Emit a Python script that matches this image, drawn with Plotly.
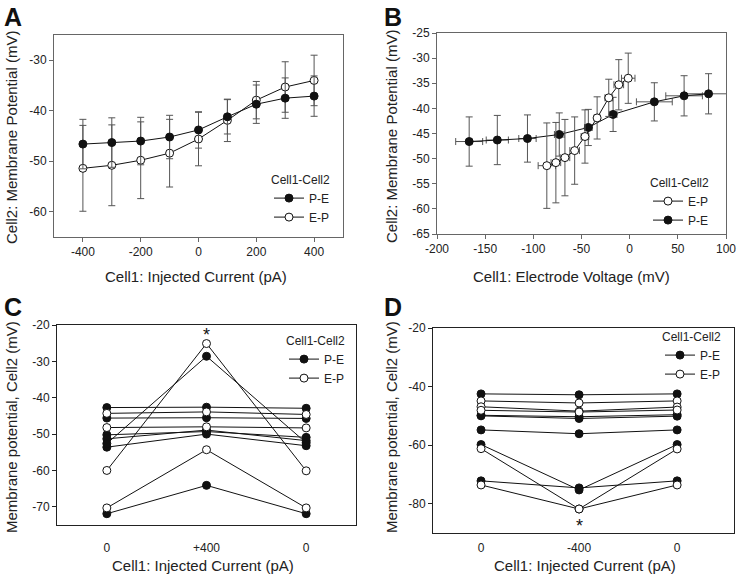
import plotly.graph_objects as go

W, H = 737, 576
def px(x): return x / W
def py(y): return 1 - y / H

# ---------------- Data ----------------
# Panel A
currents_pa = [-400, -300, -200, -100, 0, 100, 200, 300, 400]
a_pe_mean = [-46.6, -46.3, -46.0, -45.2, -43.8, -41.2, -38.7, -37.5, -37.1]
a_pe_sd = [4.9, 4.9, 4.7, 4.3, 3.6, 3.4, 3.8, 4.0, 4.0]
a_ep_mean = [-51.4, -50.8, -49.8, -48.4, -45.6, -41.9, -37.9, -35.3, -34.0]
a_ep_sd = [8.5, 8.0, 7.6, 6.7, 5.3, 4.2, 3.7, 5.0, 5.0]
a_xticks = [-400, -200, 0, 200, 400]
a_yticks = [-60, -50, -40, -30]

# Panel B
b_pe_v = [-166.6, -137.4, -106.1, -73.1, -42.9, -17.2, 25.6, 56.5, 81.9]
b_pe_vsd = [14, 11.5, 9, 5, 4, 4, 18.6, 19, 25]
b_ep_v = [-86.0, -76.6, -67.2, -57.1, -46.4, -33.8, -21.7, -11.3, -1.5]
b_ep_vsd = [9, 5, 5, 5, 4, 3, 4, 5, 7]
b_xticks = [-200, -150, -100, -50, 0, 50, 100]
b_yticks = [-65, -60, -55, -50, -45, -40, -35, -30, -25]

# Panel C  (0, +400, 0)
c_ticks = ["0", "+400", "0"]
c_yticks = [-70, -60, -50, -40, -30, -20]
c_pe = [
    [-42.7, -42.6, -42.9],
    [-45.6, -45.5, -45.7],
    [-50.2, -49.3, -50.9],
    [-51.3, -48.9, -51.8],
    [-53.6, -50.0, -53.2],
    [-52.6, -28.6, -52.4],
    [-71.9, -64.1, -71.9],
]
c_ep = [
    [-44.3, -43.9, -44.6],
    [-48.2, -48.0, -48.3],
    [-60.0, -25.1, -60.1],
    [-70.3, -54.3, -70.3],
]

# Panel D  (0, -400, 0)
d_ticks = ["0", "-400", "0"]
d_yticks = [-80, -60, -40, -20]
d_pe = [
    [-42.5, -42.8, -42.5],
    [-50.0, -50.9, -50.1],
    [-49.8, -50.3, -49.6],
    [-54.8, -56.1, -54.8],
    [-59.8, -75.3, -59.8],
    [-72.2, -74.6, -72.2],
]
d_ep = [
    [-44.9, -45.6, -44.9],
    [-46.9, -48.4, -47.0],
    [-48.1, -48.7, -48.0],
    [-61.2, -81.8, -61.3],
    [-73.6, -81.8, -73.6],
]

def lbl(vals):
    return [str(v) for v in vals]  # plain hyphen minus, like the original

FONT = "Arial, Liberation Sans, sans-serif"
BLACK = "#111111"
GRAY = "#555555"

filled = dict(symbol="circle", size=8, color=BLACK, line=dict(color=BLACK, width=1))
openm = dict(symbol="circle", size=8, color="white", line=dict(color=BLACK, width=1))
ln = dict(color=BLACK, width=1)
def eb(arr):
    return dict(type="data", array=arr, color=GRAY, thickness=1, width=3.5)

fig = go.Figure()

# ---- Panel A ----
fig.add_trace(go.Scatter(x=currents_pa, y=a_ep_mean, mode="lines+markers", name="E-P",
    marker=openm, line=ln, xaxis="x", yaxis="y", legend="legend", legendrank=2,
    error_y=eb(a_ep_sd)))
fig.add_trace(go.Scatter(x=currents_pa, y=a_pe_mean, mode="lines+markers", name="P-E",
    marker=filled, line=ln, xaxis="x", yaxis="y", legend="legend", legendrank=1,
    error_y=eb(a_pe_sd)))

# ---- Panel B ----
fig.add_trace(go.Scatter(x=b_pe_v, y=a_pe_mean, mode="lines+markers", name="P-E",
    marker=filled, line=ln, xaxis="x2", yaxis="y2", legend="legend2", legendrank=2,
    error_y=eb(a_pe_sd), error_x=eb(b_pe_vsd)))
fig.add_trace(go.Scatter(x=b_ep_v, y=a_ep_mean, mode="lines+markers", name="E-P",
    marker=openm, line=ln, xaxis="x2", yaxis="y2", legend="legend2", legendrank=1,
    error_y=eb(a_ep_sd), error_x=eb(b_ep_vsd)))

# ---- Panel C ----
for i, s in enumerate(c_pe):
    fig.add_trace(go.Scatter(x=[0, 1, 2], y=s, mode="lines+markers", name="P-E",
        marker=filled, line=ln, xaxis="x3", yaxis="y3", legend="legend3",
        showlegend=(i == 0), legendrank=1))
for i, s in enumerate(c_ep):
    fig.add_trace(go.Scatter(x=[0, 1, 2], y=s, mode="lines+markers", name="E-P",
        marker=openm, line=ln, xaxis="x3", yaxis="y3", legend="legend3",
        showlegend=(i == 0), legendrank=2))

# ---- Panel D ----
for i, s in enumerate(d_pe):
    fig.add_trace(go.Scatter(x=[0, 1, 2], y=s, mode="lines+markers", name="P-E",
        marker=filled, line=ln, xaxis="x4", yaxis="y4", legend="legend4",
        showlegend=(i == 0), legendrank=1))
for i, s in enumerate(d_ep):
    fig.add_trace(go.Scatter(x=[0, 1, 2], y=s, mode="lines+markers", name="E-P",
        marker=openm, line=ln, xaxis="x4", yaxis="y4", legend="legend4",
        showlegend=(i == 0), legendrank=2))

def axis(domain, rng, tickvals, ticktext, anchor, color="#666666", ticks="outside", standoff=None):
    d = dict(domain=domain, range=rng, showline=True, linecolor=color, linewidth=1, mirror=True,
             ticks=ticks, ticklen=4, tickcolor=color, showgrid=False, zeroline=False,
             tickfont=dict(size=12, color="#222222", family=FONT), anchor=anchor,
             fixedrange=True, automargin=False,
             tickmode="array", tickvals=tickvals, ticktext=ticktext)
    if standoff is not None:
        d["ticklabelstandoff"] = standoff
    return d

def legend(xr, yt):
    return dict(x=px(xr), y=py(yt), xanchor="right", yanchor="top",
                title=dict(text="Cell1-Cell2", font=dict(size=12, family=FONT, color="#222222")),
                font=dict(size=12, family=FONT, color="#222222"), bgcolor="rgba(0,0,0,0)",
                itemwidth=30, tracegroupgap=0, traceorder="normal")

layout = dict(
    width=W, height=H, margin=dict(l=0, r=0, t=0, b=0, autoexpand=False),
    paper_bgcolor="white", plot_bgcolor="white",
    font=dict(family=FONT, color="#222222"),
    xaxis=axis([px(54), px(343)], [-500, 500], a_xticks, lbl(a_xticks), "y"),
    yaxis=axis([py(237), py(35)], [-65, -25], a_yticks, lbl(a_yticks), "x"),
    xaxis2=axis([px(437), px(726)], [-200, 100], b_xticks, lbl(b_xticks), "y2"),
    yaxis2=axis([py(234), py(33)], [-65, -25], b_yticks, lbl(b_yticks), "x2"),
    xaxis3=axis([px(57), px(356)], [-0.5, 2.5], [0, 1, 2], c_ticks, "y3",
                color="#222222", ticks="", standoff=12),
    yaxis3=axis([py(525), py(325)], [-75, -20], c_yticks, lbl(c_yticks), "x3", color="#222222"),
    xaxis4=axis([px(433), px(734)], [-0.49, 2.58], [0, 1, 2], d_ticks, "y4",
                color="#222222", ticks="", standoff=4),
    yaxis4=axis([py(533), py(328)], [-90, -20], d_yticks, lbl(d_yticks), "x4", color="#222222"),
    legend=legend(335, 168),
    legend2=legend(714, 171),
    legend3=legend(350, 329),
    legend4=legend(726, 325),
    showlegend=True,
)
fig.update_layout(**layout)

ann = []
def title(text, xc, yc, angle=0):
    ann.append(dict(text=text, x=px(xc), y=py(yc), xref="paper", yref="paper",
                    xanchor="center", yanchor="middle", showarrow=False, textangle=angle,
                    font=dict(size=15, family=FONT, color="#222222")))

title("Cell1: Injected Current (pA)", 196, 276)
title("Cell2: Membrane Potential (mV)", 11, 138, -90)
title("Cell1: Electrode Voltage (mV)", 571, 276)
title("Cell2: Membrane Potential (mV)", 391, 137, -90)
title("Cell1: Injected Current (pA)", 203, 565)
title("Membrane potential, Cell2 (mV)", 11, 427, -90)
title("Cell1: Injected Current (pA)", 585, 565)
title("Membrane potential, Cell2 (mV)", 391, 427, -90)

for letter, x, y in [("A", 2, 1), ("B", 382, 1), ("C", 2, 291), ("D", 382, 291)]:
    ann.append(dict(text="<b>%s</b>" % letter, x=px(x), y=py(y), xref="paper", yref="paper",
                    xanchor="left", yanchor="top", showarrow=False,
                    font=dict(size=25, family=FONT, color="#111111")))

ann.append(dict(text="*", x=1, y=-22.8, xref="x3", yref="y3", showarrow=False,
                font=dict(size=18, family=FONT, color="#111111")))
ann.append(dict(text="*", x=1, y=-87.5, xref="x4", yref="y4", showarrow=False,
                font=dict(size=18, family=FONT, color="#111111")))

fig.update_layout(annotations=ann)
fig.write_html("out.html", config={"displayModeBar": False, "staticPlot": True},
               post_script="document.body.style.margin='0';document.body.style.overflow='hidden';")
